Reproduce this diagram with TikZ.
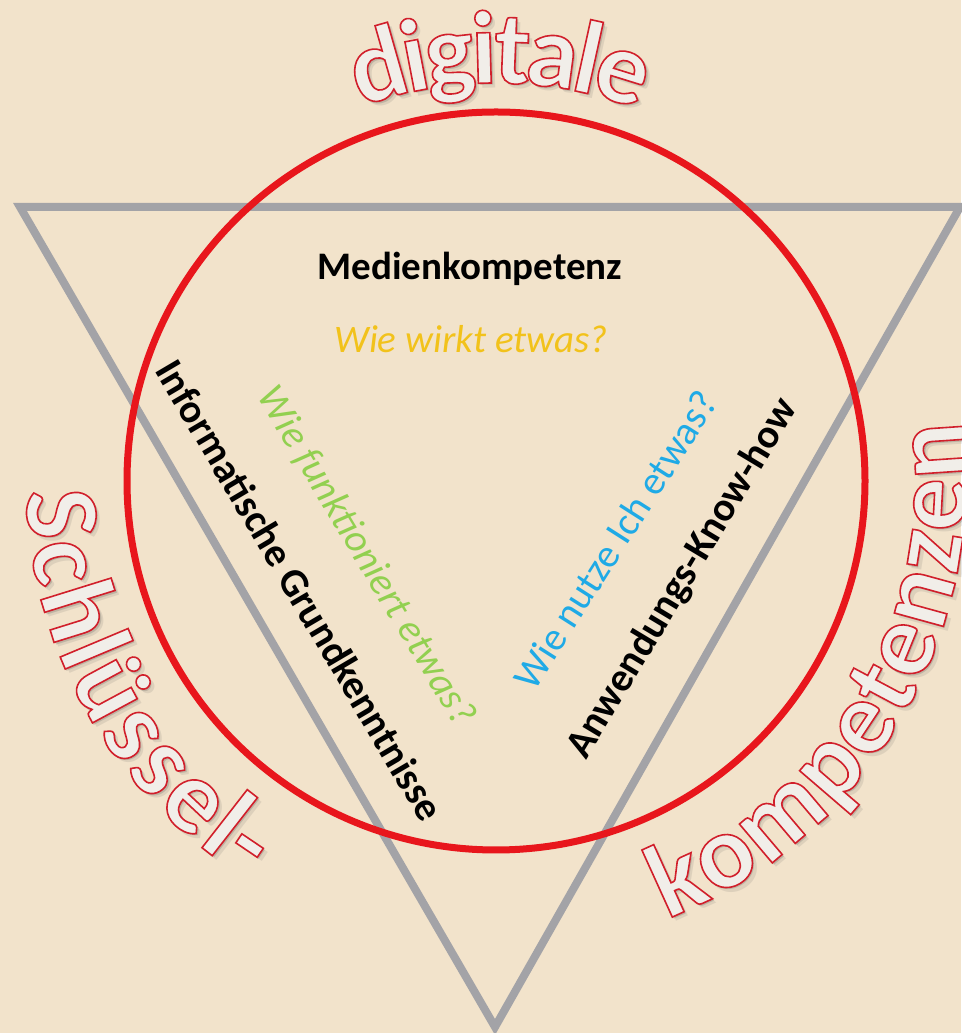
\documentclass[tikz,border=0pt]{standalone}
\usepackage{fontspec}
\setmainfont{Carlito}
\definecolor{bg}{HTML}{F2E3CB}
\definecolor{ringred}{HTML}{E8161C}
\definecolor{trigrey}{HTML}{A3A3A7}
\definecolor{letterfill}{HTML}{F1EEE9}
\definecolor{qyellow}{HTML}{F2C21B}
\definecolor{qgreen}{HTML}{92D050}
\definecolor{qblue}{HTML}{1FAAE6}
\newbox\arcbox
\newdimen\arcdim
\def\arcfont{\fontsize{100}{110}\selectfont}
\newcommand\outl[1]{\special{pdf:literal direct 2 Tr 1.6 w 0.82 0.12 0.17 RG}#1\special{pdf:literal direct 0 Tr}}
% #1 name prefix, #2 baseline radius, #3 spacing radius, #4 start angle, #5 sign (+1 ccw, -1 cw), #6 letters
\newcommand\ArcWord[6]{%
  \xdef\arcang{#4}%
  \foreach \ch [count=\k] in {#6}{%
    \pgfinterruptpicture
      \global\setbox\arcbox=\hbox{\arcfont\ch}%
    \endpgfinterruptpicture
    \global\arcdim=\wd\arcbox
    \pgfmathsetmacro\hstep{#5*0.5*\arcdim/#3*57.29578}%
    \pgfmathsetmacro\thmid{\arcang+\hstep}%
    \pgfmathsetmacro\rot{\thmid+#5*90}%
    \node[shadowletter, opacity=0.12, rotate=\rot] at ([shift={(\thmid:#2pt)},xshift=4.5pt,yshift=-4.5pt]C) {\ch};
    \node[shadowletter, rotate=\rot] at ([shift={(\thmid:#2pt)},xshift=2.2pt,yshift=-2.2pt]C) {\ch};
    \node[arcletter, rotate=\rot] (#1\k) at ([shift={(\thmid:#2pt)}]C) {\outl{\ch}};
    \pgfmathsetmacro\newang{\arcang+2*\hstep}%
    \xdef\arcang{\newang}%
  }%
}
\begin{document}
\begin{tikzpicture}[x=1pt,y=1pt,
  tri/.style={draw=trigrey, line width=8pt, line join=miter},
  ring/.style={draw=ringred, line width=7pt},
  inner/.style={inner sep=0pt, font=\fontsize{39}{44}\selectfont},
  arcletter/.style={inner sep=0pt, anchor=base, font=\arcfont, text=letterfill},
  shadowletter/.style={inner sep=0pt, anchor=base, font=\arcfont, text=black!70, opacity=0.22}]
\path[use as bounding box, fill=bg] (0,0) rectangle (961,1033);
\coordinate (C) at (496,552);
\coordinate (T1) at (20,826);
\coordinate (T2) at (960,826);
\coordinate (T3) at (495,6);
\draw[tri] (T1) -- (T2) -- (T3) -- cycle;
\draw[ring] (C) circle[radius=369];
% inner texts
\node[inner, font=\fontsize{39}{44}\selectfont\bfseries, anchor=base] (medien) at (470,753) {Medienkompetenz};
\node[inner, font=\fontsize{39}{44}\selectfont\itshape, text=qyellow, anchor=base] (wirkt) at (471,680) {Wie wirkt etwas?};
\node[inner, font=\fontsize{40.5}{45}\selectfont\bfseries, rotate=-59.5] (info) at (300,443) {Informatische Grundkenntnisse};
\node[inner, font=\fontsize{40}{45}\selectfont\itshape, text=qgreen, rotate=-59] (funkt) at (366,477) {Wie funktioniert etwas?};
\node[inner, font=\fontsize{40}{45}\selectfont, text=qblue, rotate=57.5] (nutze) at (615,493) {Wie nutze Ich etwas?};
\node[inner, font=\fontsize{40.5}{45}\selectfont\bfseries, rotate=59] (anw) at (683,454) {Anwendungs-Know-how};
% outer arc texts
\def\arcfont{\fontsize{104}{114}\selectfont\bfseries}
\ArcWord{dig}{398}{462}{109.4}{-1}{d,i,g,i,t,a,l,e}
\def\arcfont{\fontsize{105}{115}\selectfont\bfseries}
\ArcWord{sch}{470}{428}{181}{1}{S,c,h,l,ü,s,s,e,l,-}
\ArcWord{kom}{470}{449}{-68.8}{1}{k,o,m,p,e,t,e,n,z,e,n}
\end{tikzpicture}
\end{document}
